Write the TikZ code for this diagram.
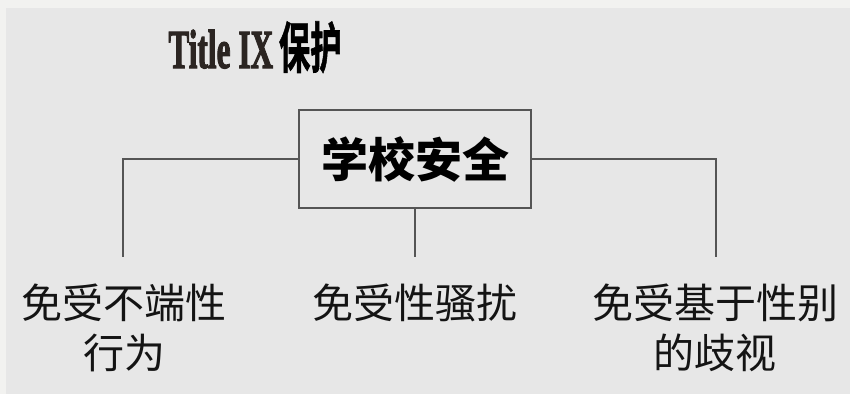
\documentclass[tikz,border=0pt]{standalone}
\usepackage{fontspec}
\newfontfamily\cjk{Noto Sans CJK SC}
\newfontfamily\cjkheavy[FakeBold=1.5]{Noto Sans CJK SC Bold}
\newfontfamily\titleserif[FakeBold=2.5]{Liberation Serif Bold}
\definecolor{outerc}{HTML}{F2F2F0}
\definecolor{bgc}{HTML}{E7E7E7}
\definecolor{linec}{HTML}{555555}
\definecolor{textc}{HTML}{141414}
\definecolor{titlec}{HTML}{2B2522}
\tikzset{
  conn/.style={draw=linec, line width=1.5pt},
  leaf/.style={font=\cjk\fontsize{41}{50}\selectfont, align=center, inner sep=0pt, text=textc},
  rootbox/.style={draw=linec, line width=1.5pt, minimum width=232pt, minimum height=98pt, inner sep=0pt,
    font=\cjk\bfseries\fontsize{47}{47}\selectfont, text=black}
}
\begin{document}
\begin{tikzpicture}[x=1pt,y=-1pt]
\useasboundingbox (0,0) rectangle (850,394);
\fill[outerc] (0,0) rectangle (850,394);
\fill[bgc] (6,8) rectangle (850,394);
\node[anchor=base, inner sep=0pt] (title) at (255,68)
  {\scalebox{0.57}[1]{\fontsize{55}{55}\selectfont\color{titlec}\titleserif Title IX\hspace{10pt}\color{black}\cjkheavy 保护}};
\node[rootbox] (box) at (415,159) {学校安全};
\coordinate (c1) at (123,257);
\coordinate (c2) at (415,257);
\coordinate (c3) at (716,257);
\draw[conn] (box.west) -| (c1);
\draw[conn] (box.south) -- (c2);
\draw[conn] (box.east) -| (c3);
\node[leaf, anchor=north] (l1) at (124,284) {免受不端性\\行为};
\node[leaf, anchor=north] (l2) at (415,284) {免受性骚扰};
\node[leaf, anchor=north] (l3) at (715,284) {免受基于性别\\的歧视};
\end{tikzpicture}
\end{document}
